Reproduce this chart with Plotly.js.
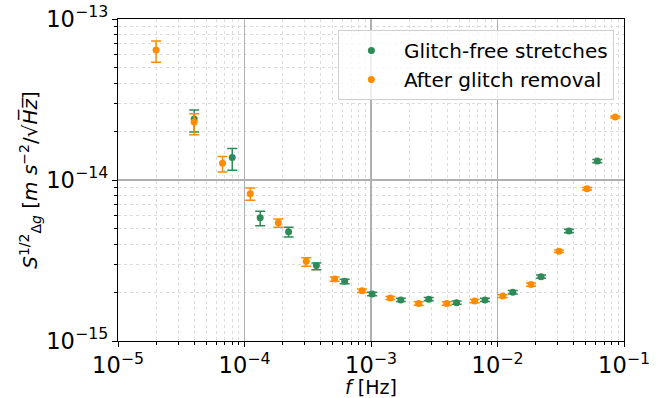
<!DOCTYPE html>
<html><head><meta charset="utf-8">
<script src="https://cdn.plot.ly/plotly-3.0.1.min.js"></script>
<style>body{margin:0;padding:0;background:#fff}#chart{width:657px;height:398px}</style>
</head><body><div id="chart"></div>
<script>
// Glitch-free stretches (green)
const freqGreen = [4.0e-5, 8.0e-5, 1.33e-4, 2.23e-4, 3.70e-4, 6.19e-4, 1.02e-3, 1.72e-3, 2.86e-3, 4.75e-3, 7.96e-3, 1.32e-2, 2.21e-2, 3.67e-2, 6.15e-2];
const asdGreen = [2.39e-14, 1.38e-14, 5.83e-15, 4.77e-15, 2.94e-15, 2.35e-15, 1.96e-15, 1.80e-15, 1.82e-15, 1.73e-15, 1.80e-15, 2.01e-15, 2.51e-15, 4.82e-15, 1.31e-14];
const errUpGreen = [0.33e-14, 0.19e-14, 0.57e-15, 0.31e-15, 0.11e-15, 0.07e-15, 0.05e-15, 0.04e-15, 0.04e-15, 0.04e-15, 0.04e-15, 0.05e-15, 0.06e-15, 0.12e-15, 0.3e-15];
const errDnGreen = [0.40e-14, 0.23e-14, 0.63e-15, 0.34e-15, 0.17e-15, 0.08e-15, 0.05e-15, 0.04e-15, 0.04e-15, 0.04e-15, 0.04e-15, 0.05e-15, 0.06e-15, 0.12e-15, 0.3e-15];

// After glitch removal (orange)
const freqOrange = [2.0e-5, 4.0e-5, 6.7e-5, 1.11e-4, 1.85e-4, 3.08e-4, 5.16e-4, 8.5e-4, 1.42e-3, 2.38e-3, 3.97e-3, 6.6e-3, 1.10e-2, 1.84e-2, 3.06e-2, 5.1e-2, 8.53e-2];
const asdOrange = [6.42e-14, 2.29e-14, 1.27e-14, 8.22e-15, 5.43e-15, 3.13e-15, 2.43e-15, 2.05e-15, 1.85e-15, 1.71e-15, 1.71e-15, 1.77e-15, 1.90e-15, 2.24e-15, 3.61e-15, 8.83e-15, 2.46e-14];
const errUpOrange = [0.88e-14, 0.29e-14, 0.13e-14, 0.70e-15, 0.30e-15, 0.16e-15, 0.07e-15, 0.05e-15, 0.04e-15, 0.04e-15, 0.04e-15, 0.04e-15, 0.04e-15, 0.05e-15, 0.07e-15, 0.15e-15, 0.3e-15];
const errDnOrange = [1.04e-14, 0.38e-14, 0.15e-14, 0.74e-15, 0.35e-15, 0.22e-15, 0.08e-15, 0.05e-15, 0.04e-15, 0.04e-15, 0.04e-15, 0.04e-15, 0.04e-15, 0.05e-15, 0.07e-15, 0.15e-15, 0.3e-15];

const seriesNames = ["Glitch-free stretches", "After glitch removal"];
const colors = ["#2e8b57", "#ff8c00"];
const xTitle = '<i>f</i> [Hz]';
const yTitle = '<i>S</i><sup>1/2</sup><sub>Δ<i>g</i></sub> [<i>m s</i><sup>−2</sup>/√<i>H̅z̅</i>]';

function trace(x, y, up, dn, name, color) {
  return {
    x: x, y: y, name: name, type: 'scatter', mode: 'markers',
    marker: {color: color, size: 7},
    error_y: {type: 'data', symmetric: false, array: up, arrayminus: dn, color: color, thickness: 1.5, width: 5, visible: true}
  };
}

const data = [
  trace(freqGreen, asdGreen, errUpGreen, errDnGreen, seriesNames[0], colors[0]),
  trace(freqOrange, asdOrange, errUpOrange, errDnOrange, seriesNames[1], colors[1])
];

const fam = 'DejaVu Sans';
const axisCommon = {
  type: 'log', dtick: 1, exponentformat: 'power', showexponent: 'all',
  showline: true, linecolor: '#000', linewidth: 1.2, mirror: true,
  ticks: 'outside', ticklen: 5, tickwidth: 1, tickcolor: '#000',
  showgrid: true, gridcolor: '#b0b0b0', gridwidth: 1.2, zeroline: false,
  tickfont: {family: fam, size: 18, color: '#000'},
  minor: {ticks: 'outside', ticklen: 3, tickcolor: '#000', showgrid: true, gridcolor: '#dcdcdc', griddash: 'dot', gridwidth: 1}
};

const layout = {
  width: 657, height: 398,
  margin: {l: 118, r: 33, t: 19, b: 57},
  paper_bgcolor: '#fff', plot_bgcolor: '#fff',
  font: {family: fam, size: 18, color: '#000'},
  showlegend: true,
  xaxis: Object.assign({}, axisCommon, {range: [-5, -1]}),
  yaxis: Object.assign({}, axisCommon, {range: [-15, -13], title: {text: yTitle, font: {family: fam, size: 20}}}),
  annotations: [{xref: 'paper', yref: 'paper', x: 0.5, y: -0.142, xanchor: 'center', yanchor: 'middle', showarrow: false, text: xTitle, font: {family: fam, size: 19, color: '#000'}}],
  legend: {x: 0.98, xanchor: 'right', y: 0.966, yanchor: 'top', bgcolor: 'rgba(255,255,255,0.8)', bordercolor: '#d0d0d0', borderwidth: 1, itemwidth: 55, font: {family: fam, size: 20, color: '#000'}, tracegroupgap: 0}
};

Plotly.newPlot('chart', data, layout, {displayModeBar: false, staticPlot: true});
</script>
</body></html>
